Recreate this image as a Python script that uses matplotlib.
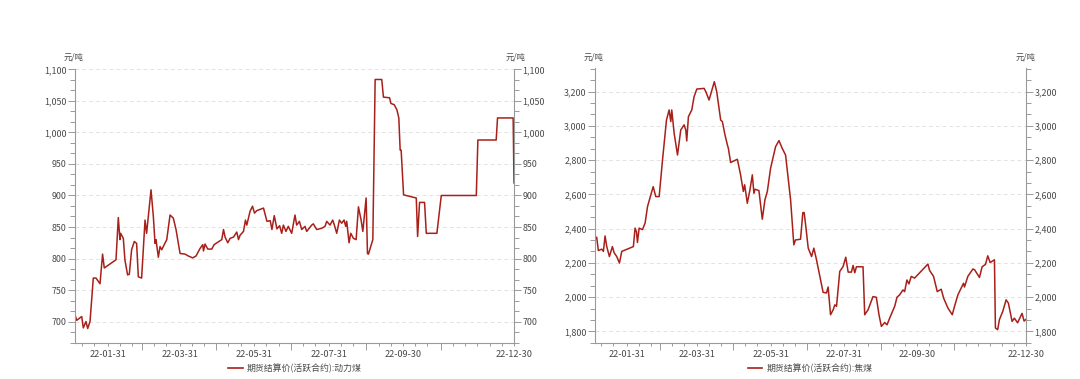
import datetime as dt
import matplotlib
matplotlib.use("Agg")
import matplotlib.pyplot as plt
import matplotlib.dates as mdates
from matplotlib.ticker import FixedLocator, MultipleLocator, AutoMinorLocator, FuncFormatter
from matplotlib.lines import Line2D

plt.rcParams['font.family'] = ['Noto Sans CJK SC', 'DejaVu Sans']

# ---------------- data (day offsets from 2022-01-01, value in 元/吨) ----------------
thermal_day = [3.3, 4.6, 8.7, 10, 12.2, 13.6, 15.5, 18.2, 20.4, 23.7, 25.8, 27.2, 36.8, 38.7, 40, 40.6,
               42.8, 44.1, 46.3, 47.7, 49.6, 51.8, 53.7, 55.1, 57.8, 60.6, 61.9, 63.3, 65.5, 67.4, 68.8,
               69.6, 71.5, 72.9, 74.3, 78.4, 81.1, 83.8, 86, 89.3, 93.4, 96.1, 99.7, 102.4, 105.7, 107.9,
               108.5, 109.8, 112, 115.3, 117.2, 123.5, 124.9, 126.2, 128.4, 130.3, 133.1, 135.8, 137.2,
               138.5, 141.3, 142.9, 144, 146.7, 148.7, 150.3, 152.2, 157.7, 160.5, 163.2, 164.6, 166.5,
               168.7, 170.9, 172.6, 174, 176.1, 178, 180.8, 183.5, 184.9, 187.1, 189, 191.7, 193.1, 197.2,
               198.5, 201.3, 205.4, 208.1, 209.5, 212.2, 214.4, 215.8, 217.7, 219.9, 221.8, 223.7, 225.1,
               225.9, 227.8, 229.2, 231.4, 233.6, 235.5, 237.7, 239.1, 241.8, 242.9, 243.7, 247.3, 249.2,
               254.6, 256, 261, 262.1, 264.8, 267, 268.6, 269.7, 270.5, 272.5, 282.9, 284, 285.6, 289.7,
               291.1, 299.8, 303.4, 332.1, 333.4, 348.4, 349.5, 362.3, 363]
thermal_val = [710, 702, 708, 690, 700, 689, 700, 769, 769, 760, 807, 785, 798, 865, 830, 840,
               832, 798, 774, 775, 814, 827, 824, 771, 769, 861, 840, 867, 909, 867, 824,
               830, 802, 819, 814, 830, 869, 864, 846, 808, 807, 804, 801, 804, 816, 822,
               812, 823, 815, 815, 822, 830, 846, 834, 825, 832, 834, 842, 830,
               837, 843, 861, 853, 875, 883, 872, 876, 880, 859, 860, 846, 868,
               847, 852, 840, 853, 843, 851, 840, 869, 853, 859, 846, 851, 843, 853,
               855, 846, 848, 851, 859, 853, 861, 853, 840, 861, 856, 861, 851,
               859, 825, 840, 832, 830, 882, 861, 843, 896, 808, 807, 830, 1084,
               1084, 1056, 1055, 1046, 1044, 1036, 1023, 972, 972, 901, 896, 835, 889, 889,
               840, 840, 900, 900, 988, 988, 1023, 1023, 920]

coking_day = [3.6, 5, 6.4, 9.2, 10.6, 12, 13.4, 15.6, 18.1, 19.5, 21.7, 24, 25.9, 35.6, 37, 38.2, 39,
              40.4, 43.2, 45.4, 47.4, 50.2, 52.1, 54.3, 57.1, 59.9, 63.2, 65.4, 66.8, 67.6, 69.6, 72.4,
              75.1, 77.9, 79.3, 80.1, 81.5, 84.3, 86.2, 88.5, 94.6, 96, 98.7, 101.5, 103.1, 105.1, 108.4,
              109.8, 112, 114, 114.8, 116.7, 118.1, 122.3, 125, 127.3, 128.4, 130.6, 132.8, 134.8, 136.1,
              137, 140.3, 143.1, 145.3, 147.3, 150, 154.2, 157, 159.7, 162.5, 166.7, 169.4, 170.8, 175,
              176.9, 178, 179.4, 181.4, 184.2, 186.1, 188.3, 191.1, 193.8, 196.6, 198, 200, 202.2, 203.6,
              205, 207.7, 210.5, 212.7, 214.7, 217.4, 218.8, 220.2, 221.6, 227.1, 228.5, 231.3, 233.2,
              235.4, 238.2, 240.4, 242.4, 245.2, 247.1, 249.3, 253.5, 255.4, 257.6, 260.4, 261.8, 263.7,
              265.4, 267.3, 270.1, 281.2, 282.6, 285.9, 289, 292.3, 294.3, 297.9, 301.5, 303.4, 306.2,
              309.8, 310.9, 311.7, 314.5, 318.7, 320.1, 324.2, 326.4, 329.2, 331.1, 333.1, 336.7, 337.5,
              339.4, 340.8, 343.6, 346.4, 348.3, 351.4, 353.3, 356, 359.7, 361.4, 363]
coking_val = [2335, 2350, 2272, 2280, 2267, 2357, 2295, 2237, 2295, 2260, 2237, 2199, 2267, 2295, 2403, 2380, 2319,
              2403, 2394, 2433, 2529, 2597, 2645, 2587, 2587, 2801, 3034, 3093, 3025, 3093, 2957, 2830,
              2976, 3006, 2976, 2912, 3054, 3093, 3170, 3215, 3219, 3200, 3151, 3219, 3258, 3200, 3034,
              3025, 2947, 2889, 2869, 2786, 2791, 2805, 2714, 2617, 2656, 2548, 2626, 2714, 2607,
              2630, 2622, 2455, 2568, 2617, 2752, 2879, 2914, 2869, 2830, 2568, 2305, 2334, 2338,
              2493, 2494, 2412, 2286, 2237, 2286, 2218, 2121, 2028, 2024, 2059, 1897, 1926, 1955,
              1946, 2150, 2179, 2233, 2146, 2146, 2185, 2142, 2177, 2177, 1897, 1926, 1961,
              2003, 1999, 1897, 1829, 1852, 1838, 1877, 1946, 1999, 2013, 2042, 2032, 2100,
              2077, 2121, 2111, 2193, 2156, 2121, 2032, 2046, 1994, 1936, 1897, 1946, 2013,
              2065, 2081, 2059, 2121, 2164, 2160, 2115, 2177, 2191, 2241, 2202, 2218, 1820,
              1810, 1868, 1916, 1984, 1965, 1858, 1877, 1850, 1905, 1860, 1870]

labeled_dates = ['2022-01-31', '2022-03-31', '2022-05-31', '2022-07-31', '2022-09-30', '2022-12-30']
tick_labels = ['22-01-31', '22-03-31', '22-05-31', '22-07-31', '22-09-30', '22-12-30']
long_tick_dates = ['2022-02-28', '2022-04-30', '2022-06-30', '2022-08-31', '2022-10-31']

legend_left = '期货结算价(活跃合约):动力煤'
legend_right = '期货结算价(活跃合约):焦煤'
unit = '元/吨'

# ---------------- helpers ----------------
base = mdates.date2num(dt.datetime(2022, 1, 1))
to_num = lambda days: [base + d for d in days]
def dnum(s):
    return mdates.date2num(dt.datetime.strptime(s, '%Y-%m-%d'))

line_color = '#a8201a'
spine_color = '#9a9a9a'
text_color = '#4a4a4a'

minor_days = []
for m in range(1, 13):
    for day in (10, 20):
        minor_days.append(mdates.date2num(dt.datetime(2022, m, day)))
    nxt = dt.datetime(2022, m + 1, 1) if m < 12 else dt.datetime(2023, 1, 1)
    minor_days.append(mdates.date2num(nxt - dt.timedelta(days=1)))

W, H = 1080, 379
fig = plt.figure(figsize=(W / 100, H / 100), dpi=100)

def setup(ax, xs, ys, xlim, ylim, major):
    ax.plot(xs, ys, color=line_color, lw=1.1, solid_joinstyle='round')
    ax.set_xlim(*xlim)
    ax.set_ylim(*ylim)
    ax.yaxis.set_major_locator(MultipleLocator(major))
    ax.yaxis.set_minor_locator(AutoMinorLocator(3))
    ax.yaxis.set_major_formatter(FuncFormatter(lambda v, p: f'{int(round(v)):,}'))
    ax.grid(axis='y', which='major', color='#e3e3e3', lw=0.7, ls=(0, (4, 3)))
    ax.set_axisbelow(True)
    for s in ('left', 'right', 'bottom'):
        ax.spines[s].set_color(spine_color)
        ax.spines[s].set_linewidth(0.8)
    ax.spines['top'].set_visible(False)
    ax.tick_params(axis='y', which='both', left=True, right=True, labelleft=True, labelright=True,
                   direction='out', color=spine_color, width=0.7, labelsize=6.4, labelcolor=text_color, pad=1)
    ax.tick_params(axis='y', which='major', length=5)
    ax.tick_params(axis='y', which='minor', length=3.5)
    majors = [dnum(s) for s in labeled_dates] + [dnum(s) for s in long_tick_dates]
    labels = tick_labels + [''] * len(long_tick_dates)
    ax.set_xticks(majors)
    ax.set_xticklabels(labels)
    ax.xaxis.set_minor_locator(FixedLocator([m for m in minor_days if m not in majors]))
    ax.tick_params(axis='x', which='both', direction='out', color=spine_color, width=0.7,
                   labelsize=6.6, labelcolor=text_color, pad=2.5)
    ax.tick_params(axis='x', which='major', length=2.4)
    ax.tick_params(axis='x', which='minor', length=2.4)
    for t, lab in zip(ax.xaxis.get_major_ticks(), labels):
        if lab == '':
            t.tick1line.set_markersize(5)

# left chart
ax1 = fig.add_axes([75 / W, 1 - 343 / H, (514 - 75) / W, (343 - 69.4) / H])
setup(ax1, to_num(thermal_day), thermal_val, (base + 3.2, base + 363), (666, 1100), 50)

# right chart
ax2 = fig.add_axes([595 / W, 1 - 343 / H, (1026 - 595) / W, (343 - 68) / H])
setup(ax2, to_num(coking_day), coking_val, (base + 3.6, base + 363), (1732, 3338), 200)

# unit labels
for x in (74, 516, 594, 1026):
    fig.text(x / W, 1 - 57 / H, unit, fontsize=6, color=text_color, ha='center', va='center')

# legends
def legend(x0, x1, xt, text):
    fig.add_artist(Line2D([x0 / W, x1 / W], [1 - 368 / H, 1 - 368 / H], color=line_color, lw=1.2))
    fig.text(xt / W, 1 - 368 / H, text, fontsize=6.4, color=text_color, ha='left', va='center')

legend(228, 243, 247, legend_left)
legend(748, 762, 767, legend_right)

fig.savefig('out.png', dpi=100, facecolor='white')
